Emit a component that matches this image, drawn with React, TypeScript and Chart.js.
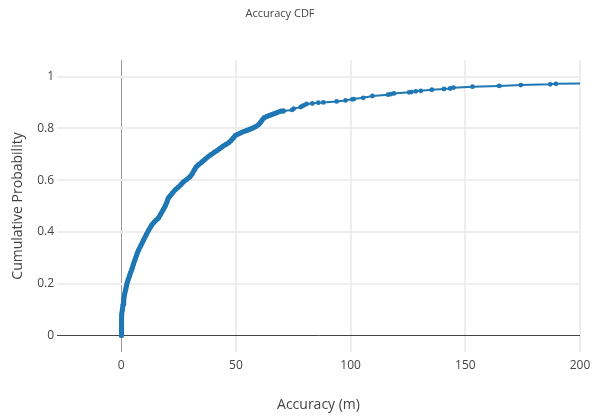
import { useEffect, useRef } from 'react';
import { Chart, registerables } from 'chart.js';

Chart.register(...registerables);

const chartTitle = 'Accuracy CDF';
const xTitle = 'Accuracy (m)';
const yTitle = 'Cumulative Probability';

const accuracyM = [
  0, 0, 0.1, 0.2, 0.3, 0.5, 0.8, 1.1, 1.5, 2.0, 2.5, 3.0, 3.6, 4.2, 4.8, 5.3, 5.9, 6.5, 7.0, 7.6,
  8.3, 9.0, 9.7, 10.4, 11.1, 11.8, 12.6, 13.4, 14.3, 15.2, 16.2, 17.0, 17.8, 18.6, 19.3, 19.9, 20.4,
  21.2, 22.3, 23.5, 24.8, 26.0, 27.2, 28.6, 30.0, 31.0, 31.8, 32.6, 33.8, 35.2, 36.5, 37.8, 39.1,
  40.5, 41.8, 43.0, 44.2, 45.5, 46.8, 47.8, 48.8, 49.7, 50.8, 52.0, 53.3, 54.8, 56.2, 57.6, 58.9,
  60.0, 60.8, 61.5, 62.3, 63.5, 65.0, 66.5, 68.0, 69.4,
  70.7, 74.5, 75.2, 78.2, 78.9, 79.6, 80.8, 83.3, 85.9, 88.1, 93.9, 97.8, 100.7, 101.4, 105.5,
  109.5, 116.3, 117.5, 118.9, 125.5, 126.5, 128.4, 130.6, 135.4, 140.7, 143.4, 144.8, 153.1,
  164.8, 174.2, 187.0, 189.5, 240.0,
];

const cumulativeProb = [
  0.0, 0.02, 0.04, 0.06, 0.08, 0.1, 0.12, 0.14, 0.16, 0.18, 0.2, 0.215, 0.23, 0.245, 0.26, 0.275,
  0.29, 0.305, 0.318, 0.33, 0.343, 0.355, 0.368, 0.38, 0.392, 0.404, 0.416, 0.428, 0.437, 0.445,
  0.453, 0.465, 0.478, 0.49, 0.502, 0.515, 0.528, 0.538, 0.55, 0.562, 0.572, 0.582, 0.594, 0.603,
  0.613, 0.625, 0.638, 0.65, 0.66, 0.67, 0.68, 0.69, 0.698, 0.707, 0.714, 0.722, 0.73, 0.737,
  0.744, 0.752, 0.762, 0.772, 0.777, 0.782, 0.787, 0.792, 0.797, 0.802, 0.808, 0.815, 0.824,
  0.833, 0.841, 0.846, 0.851, 0.856, 0.861, 0.866,
  0.867, 0.871, 0.876, 0.882, 0.886, 0.889, 0.894, 0.896, 0.899, 0.9, 0.904, 0.908, 0.912, 0.913,
  0.918, 0.925, 0.93, 0.932, 0.935, 0.939, 0.94, 0.943, 0.945, 0.949, 0.952, 0.954, 0.957, 0.961,
  0.964, 0.967, 0.97, 0.972, 0.98,
];

const xTicks = [0, 50, 100, 150, 200];
const yTicks = [0, 0.2, 0.4, 0.6, 0.8, 1];

const FONT = '"Open Sans", "Noto Sans", sans-serif';
const TEXT = '#444444';

export default function App() {
  const ref = useRef<HTMLCanvasElement | null>(null);

  useEffect(() => {
    if (!ref.current) return;
    const titlePlugin = {
      id: 'plotTitle',
      afterDraw(chart: any) {
        const ctx = chart.ctx;
        ctx.save();
        ctx.fillStyle = TEXT;
        ctx.font = `11px ${FONT}`;
        ctx.textAlign = 'center';
        ctx.textBaseline = 'middle';
        ctx.fillText(chartTitle, 280, 14);
        ctx.restore();
      },
    };
    const chart = new Chart(ref.current, {
      type: 'line',
      data: {
        datasets: [
          {
            data: accuracyM.map((x, i) => ({ x, y: cumulativeProb[i] })),
            borderColor: '#1f77b4',
            backgroundColor: '#1f77b4',
            borderWidth: 2,
            borderCapStyle: 'round',
            borderJoinStyle: 'round',
            pointRadius: 2.4,
            pointBorderWidth: 0,
            pointHoverRadius: 2.4,
            tension: 0,
            fill: false,
            segment: {
              borderWidth: (c: any) => (c.p1.parsed.x < 71 ? 5 : 2),
            },
          },
        ],
      },
      options: {
        responsive: false,
        animation: false,
        devicePixelRatio: 1,
        layout: { padding: { top: 60, right: 14, left: 0, bottom: 0 } },
        plugins: {
          legend: { display: false },
          tooltip: { enabled: false },
          title: { display: false },
        },
        scales: {
          x: {
            type: 'linear',
            min: -28,
            max: 200,
            afterBuildTicks: (s: any) => {
              s.ticks = xTicks.map((v) => ({ value: v }));
            },
            afterFit: (s: any) => {
              s.height = 68;
              s.paddingLeft = 0;
              s.paddingRight = 0;
            },
            border: { display: false },
            grid: {
              drawTicks: false,
              color: (c: any) => (c.tick && c.tick.value === 0 ? '#9a9a9a' : '#eeeeee'),
              lineWidth: (c: any) => (c.tick && c.tick.value === 0 ? 1 : 2),
            },
            ticks: {
              color: TEXT,
              font: { family: FONT, size: 12 },
              padding: 6,
              maxRotation: 0,
              callback: (v: any) => String(v),
            },
            title: {
              display: true,
              text: xTitle,
              color: TEXT,
              font: { family: FONT, size: 14 },
              padding: { top: 0, bottom: 7 },
            },
          },
          y: {
            type: 'linear',
            min: -0.064,
            max: 1.064,
            afterBuildTicks: (s: any) => {
              s.ticks = yTicks.map((v) => ({ value: v }));
            },
            afterFit: (s: any) => {
              s.width = 57;
              s.paddingTop = 0;
              s.paddingBottom = 0;
            },
            border: { display: false },
            grid: {
              drawTicks: false,
              color: (c: any) => (c.tick && c.tick.value === 0 ? '#444444' : '#eeeeee'),
              lineWidth: (c: any) => (c.tick && c.tick.value === 0 ? 1 : 2),
            },
            ticks: {
              color: TEXT,
              font: { family: FONT, size: 12 },
              padding: 3,
              callback: (v: any) => String(Math.round(Number(v) * 10) / 10),
            },
            title: {
              display: true,
              text: yTitle,
              color: TEXT,
              font: { family: FONT, size: 14 },
              padding: { top: 10, bottom: 0 },
            },
          },
        },
      },
      plugins: [titlePlugin],
    });
    return () => chart.destroy();
  }, []);

  return (
    <div style={{ position: 'fixed', left: 0, top: 0, width: 594, height: 420, background: '#fff' }}>
      <canvas ref={ref} width={594} height={420} style={{ display: 'block' }} />
    </div>
  );
}
